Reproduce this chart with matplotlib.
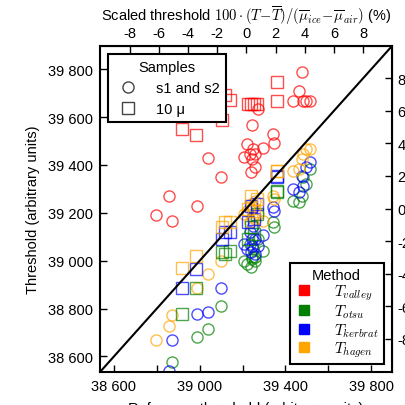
import matplotlib
matplotlib.use("Agg")
import matplotlib.pyplot as plt
from matplotlib.ticker import MultipleLocator, FuncFormatter
from matplotlib.lines import Line2D

plt.rcParams['font.family'] = ['Liberation Sans', 'DejaVu Sans']
plt.rcParams['mathtext.fontset'] = 'cm'
plt.rcParams['font.size'] = 10.5
plt.rcParams['axes.unicode_minus'] = False

# samples s1 and s2 (circles): reference threshold and the four methods
circ_ref = [38796, 38858, 38871, 38987, 39037, 39099, 39207, 39219, 39235, 39238,
            39243, 39243, 39250, 39258, 39258, 39272, 39297, 39343, 39347, 39435,
            39463, 39477, 39480, 39496, 39514]
circ_valley = [39191, 39270, 39167, 39229, 39429, 39351, 39432, 39488, 39446, 39369,
               39568, 39425, 39467, 39446, 39390, 39634, 39470, 39529, 39492, 39669,
               39710, 39790, 39669, 39669, 39669]
circ_otsu = [38423, 38444, 38578, 38680, 38715, 38812, 38999, 38986, 39070, 38974,
             39016, 39007, 39049, 39016, 38999, 39091, 39041, 39163, 39141, 39251,
             39245, 39272, 39350, 39321, 39383]
circ_kerbrat = [38464, 38541, 38670, 38778, 38785, 38885, 39070, 39049, 39120, 39037,
                39091, 39062, 39145, 39028, 39091, 39062, 39108, 39225, 39208, 39300,
                39287, 39355, 39313, 39392, 39412]
circ_hagen = [38670, 38729, 38773, 38886, 38945, 38999, 39195, 39208, 39162, 39237,
              39216, 39183, 39225, 39174, 39250, 39195, 39166, 39272, 39258, 39376,
              39383, 39425, 39446, 39467, 39467]

# 10 micron samples (squares)
sq_ref = [38916, 38981, 39104, 39118, 39141, 39225, 39239, 39253, 39267, 39359, 39359]
sq_valley = [39550, 39527, 39588, 39692, 39671, 39655, 39655, 39655, 39655, 39748, 39669]
sq_otsu = [38778, 38885, 39037, 39028, 39041, 39091, 39141, 39112, 39195, 39293, 39287]
sq_kerbrat = [38885, 38966, 39091, 39120, 39120, 39162, 39229, 39174, 39237, 39355, 39350]
sq_hagen = [38970, 39020, 39141, 39162, 39162, 39216, 39272, 39208, 39258, 39376, 39375]

methods = ['valley', 'otsu', 'kerbrat', 'hagen']
colors = ['red', 'green', 'blue', 'orange']

T_mean = 39218
dmu = 68.0
lims = (38535, 39897)

fig = plt.figure(figsize=(4.06, 4.06), dpi=100)
ax = fig.add_axes([0.2463, 0.0813, 0.7192, 0.8029])

circ_vals = [circ_valley, circ_otsu, circ_kerbrat, circ_hagen]
sq_vals = [sq_valley, sq_otsu, sq_kerbrat, sq_hagen]
for vals, c in zip(circ_vals, colors):
    ax.plot(circ_ref, vals, 'o', mfc='none', mec=c, mew=1.0, ms=8, alpha=0.7)
for vals, c in zip(sq_vals, colors):
    ax.plot(sq_ref, vals, 's', mfc='none', mec=c, mew=1.0, ms=8, alpha=0.7)

ax.plot(lims, lims, 'k-', lw=1.5)
ax.set_xlim(lims)
ax.set_ylim(lims)

ax.xaxis.set_major_locator(MultipleLocator(200))
ax.yaxis.set_major_locator(MultipleLocator(200))
thou = lambda v: '%d %03d' % (int(v) // 1000, int(v) % 1000)
ax.xaxis.set_major_formatter(FuncFormatter(
    lambda v, p: thou(v) if int(round(v)) % 400 == 200 else ''))
ax.yaxis.set_major_formatter(FuncFormatter(lambda v, p: thou(v)))
ax.tick_params(direction='in', length=5, width=1, top=False, right=False, pad=5)
for s in ax.spines.values():
    s.set_linewidth(1.5)

ax.set_xlabel('Reference threshold (arbitrary units)', labelpad=6)
ax.set_ylabel('Threshold (arbitrary units)', labelpad=6)

inv = lambda p: p * dmu + T_mean
secx = ax.secondary_xaxis('top', functions=(lambda t: (t - T_mean) / dmu, inv))
secy = ax.secondary_yaxis('right', functions=(lambda t: (t - T_mean) / dmu, inv))
for sa in (secx, secy):
    sa.set_ticks(range(-8, 9, 2))
    sa.tick_params(direction='in', length=5, width=1, pad=4)
secx.set_xlabel(r'Scaled threshold $100\cdot(T\!-\!\overline{T})/(\overline{\mu}_{ice}\!-\!\overline{\mu}_{air})$ (%)',
                labelpad=5)

samp_handles = [Line2D([], [], ls='none', marker='o', mfc='none', mec='#444444', ms=8),
                Line2D([], [], ls='none', marker='s', mfc='none', mec='#444444', ms=8)]
leg1 = ax.legend(samp_handles, ['s1 and s2', '10 \u03bc'], title='Samples',
                 loc='upper left', fancybox=False, edgecolor='black',
                 borderaxespad=0.55, handletextpad=0.9, framealpha=1,
                 title_fontsize=10.5)
leg1.get_frame().set_linewidth(1.5)
ax.add_artist(leg1)

meth_handles = [Line2D([], [], ls='none', marker='s', mfc=c, mec=c, ms=7) for c in colors]
meth_labels = [r'$T_{%s}$' % m for m in methods]
leg2 = ax.legend(meth_handles, meth_labels, title='Method', loc='lower right',
                 fancybox=False, edgecolor='black', borderaxespad=0.55,
                 handlelength=1.2, handletextpad=1.4, framealpha=1,
                 prop={'size': 11}, title_fontsize=10.5, labelspacing=0.05,
                 borderpad=0.3)
leg2.get_frame().set_linewidth(1.5)

fig.savefig('out.png', dpi=100)
